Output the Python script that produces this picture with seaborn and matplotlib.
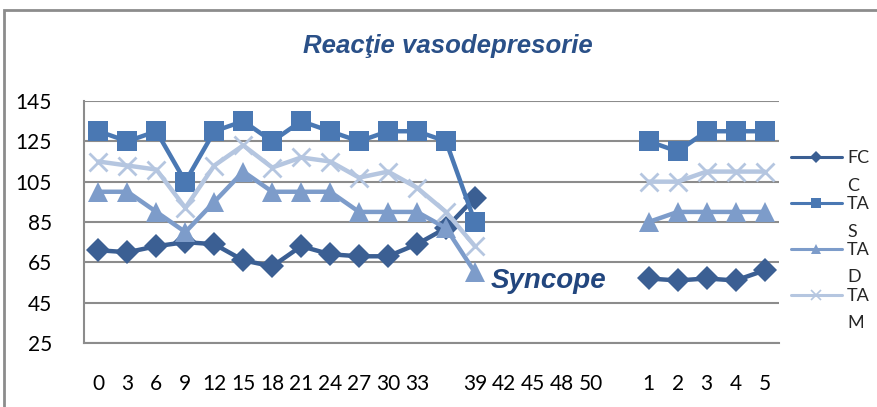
import matplotlib.pyplot as plt
import numpy as np
import pandas as pd
import seaborn as sns
from matplotlib.lines import Line2D
from matplotlib.patches import Rectangle

# category labels along the x axis (blank = empty slot)
tick_labels = ["0", "3", "6", "9", "12", "15", "18", "21", "24", "27", "30", "33",
               "", "39", "42", "45", "48", "50", "", "1", "2", "3", "4", "5"]

# values before syncope (slots 0..13) and after recovery (slots 19..23)
fcc_before = [71, 70, 73, 75, 74, 66, 63, 73, 69, 68, 68, 74, 82, 97]
tas_before = [130, 125, 130, 105, 130, 135, 125, 135, 130, 125, 130, 130, 125, 85]
tad_before = [100, 100, 90, 80, 95, 110, 100, 100, 100, 90, 90, 90, 82, 60]
tam_before = [115, 113, 111, 92, 113, 123, 112, 117, 115, 107, 110, 102, 90, 73]

fcc_after = [57, 56, 57, 56, 61]
tas_after = [125, 120, 130, 130, 130]
tad_after = [85, 90, 90, 90, 90]
tam_after = [105, 105, 110, 110, 110]

series_names = ["FCC", "TAS", "TAD", "TAM"]
legend_labels = ["FC\nC", "TA\nS", "TA\nD", "TA\nM"]
colors = ["#3B5F93", "#4A78B3", "#7D9CCA", "#B5C6E0"]
markers = ["D", "s", "^", "x"]
marker_sizes = [12.5, 15, 15, 13]

before_pos = list(range(0, 14))
after_pos = list(range(19, 24))

rows = []
for name, vb, va in zip(series_names,
                        [fcc_before, tas_before, tad_before, tam_before],
                        [fcc_after, tas_after, tad_after, tam_after]):
    for p, v in zip(before_pos, vb):
        rows.append({"series": name, "segment": 0, "pos": p, "value": v})
    for p, v in zip(after_pos, va):
        rows.append({"series": name, "segment": 1, "pos": p, "value": v})
df = pd.DataFrame(rows)

sns.set_style("white")
plt.rcParams["font.family"] = ["Lato", "DejaVu Sans"]

fig = plt.figure(figsize=(8.77, 4.07), dpi=100)
ax = fig.add_axes([84 / 877, 1 - 343 / 407, (779 - 84) / 877, (343 - 101) / 407])

handles = []
for name, col, mk, ms in zip(series_names, colors, markers, marker_sizes):
    sub = df[df["series"] == name]
    mew = 2 if mk == "x" else 0
    sns.lineplot(data=sub, x="pos", y="value", units="segment", estimator=None,
                 color=col, marker=mk, markersize=ms, markeredgewidth=mew,
                 markeredgecolor=col, linewidth=3.2, ax=ax, legend=False)
    handles.append(Line2D([], [], color=col, marker=mk, markersize=ms * 0.5,
                          markeredgewidth=1.2 if mk == "x" else 0,
                          markeredgecolor=col, linewidth=2.2))

ax.set_xlim(-0.5, len(tick_labels) - 0.5)
ax.set_ylim(25, 145)
ax.set_yticks(np.arange(25, 146, 20))
ax.set_xticks(range(len(tick_labels)))
ax.set_xticklabels(tick_labels)
ax.set_xlabel("")
ax.set_ylabel("")
ax.tick_params(axis="both", length=0, labelsize=15, colors="black")
ax.tick_params(axis="y", pad=23)
ax.tick_params(axis="x", pad=22)

ax.grid(axis="y", color="#8C8C8C", linewidth=1.5)
ax.set_axisbelow(True)
for side in ["top", "right"]:
    ax.spines[side].set_visible(False)
for side in ["left", "bottom"]:
    ax.spines[side].set_color("#8C8C8C")
    ax.spines[side].set_linewidth(1.5)

fig.text(448 / 877, 1 - 46 / 407, "Reacţie vasodepresorie", ha="center", va="center",
         fontsize=18.5, fontweight="bold", fontstyle="italic", color="#2A5088",
         family=["Liberation Sans", "DejaVu Sans"])

ax.text(15.55, 55.5, "Syncope", ha="center", va="center", fontsize=20,
        fontweight="bold", fontstyle="italic", color="#22467E",
        family=["Liberation Sans", "DejaVu Sans"])

leg = fig.legend(handles, legend_labels, loc="upper left",
                 bbox_to_anchor=(791 / 877, 1 - 150 / 407), frameon=False,
                 fontsize=13, handlelength=2.8, handletextpad=0.3,
                 labelspacing=0.12, borderpad=0, borderaxespad=0)
for t in leg.get_texts():
    t.set_linespacing(1.9)
# put each legend line level with the first row of its wrapped label
for h in leg.legend_handles:
    h.set_ydata(np.asarray(h.get_ydata()) + 10.5)

# outer chart border (cropped at right and bottom)
fig.patches.append(Rectangle((4 / 877, -0.2), 1.2, 1.2 - 10 / 407,
                             transform=fig.transFigure, fill=False,
                             edgecolor="#8C8C8C", linewidth=2))

fig.savefig("out.png", dpi=100)
